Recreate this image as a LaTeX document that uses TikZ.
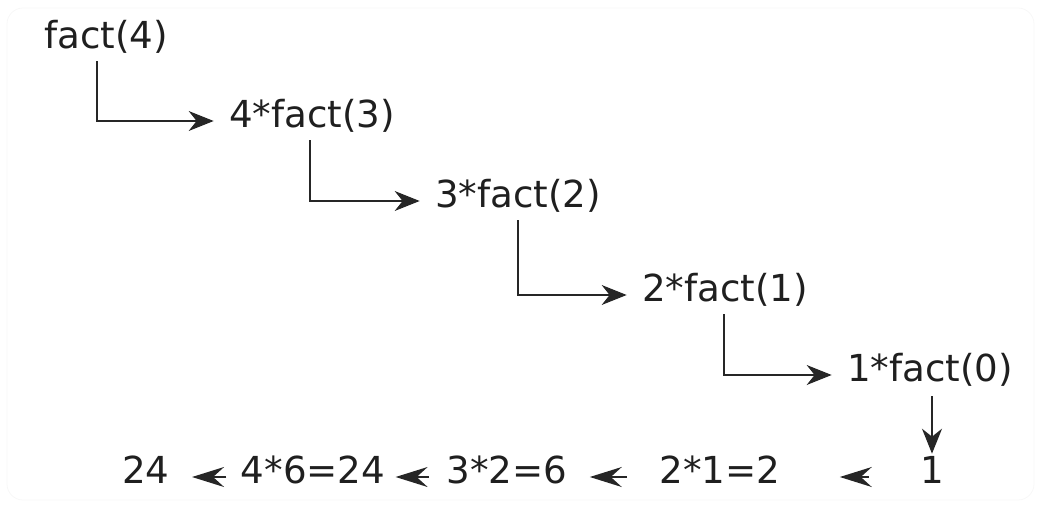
\documentclass[tikz,border=0pt]{standalone}
\usepackage{fontspec}
\setmainfont{DejaVu Sans}
\usetikzlibrary{arrows.meta}

\tikzset{
  term/.style={inner sep=5pt, text=black!88, font=\fontsize{18.6}{22}\selectfont,
    text height=0.76em, text depth=0.13em},
  link/.style={draw=black!85, line width=0.8pt, -{Stealth[length=12.5pt, width=10pt, inset=4pt]}},
  back/.style={draw=black!85, line width=0.9pt, -{Stealth[length=16pt, width=10pt, inset=5.5pt]}}
}

\begin{document}
\begin{tikzpicture}[x=0.5pt, y=-0.5pt]
        \useasboundingbox (0,0) rectangle (1040,509);
        \draw[black!3, rounded corners=8pt] (7,8) rectangle (1034,500);
        % calls going down
        \node[term] (fact4) at (106,42) {fact(4)};
        \node[term] (step3) at (312,121) {4*fact(3)};
        \node[term] (step2) at (518,201) {3*fact(2)};
        \node[term] (step1) at (725,295) {2*fact(1)};
        \node[term] (step0) at (930,375) {1*fact(0)};
        % values coming back
        \node[term] (one) at (932,477) {1};
        \node[term] (res2) at (720,477) {2*1=2};
        \node[term] (res6) at (507,477) {3*2=6};
        \node[term] (res24) at (313,477) {4*6=24};
        \node[term] (final) at (146,477) {24};
        \draw[link, shorten >=2.5pt] ([xshift=-4.5pt]fact4.south) |- (step3);
        \draw[link, shorten >=2.5pt] ([xshift=-1pt]step3.south) |- (step2);
        \draw[link, shorten >=2.5pt] (step2.south) |- (step1);
        \draw[link, shorten >=2.5pt] ([xshift=-0.5pt]step1.south) |- (step0);
        \draw[link, shorten <=1pt, shorten >=2pt] (step0.south -| one) -- (one.north);
        \draw[back, shorten <=20.5pt, shorten >=24.5pt] (one) -- (res2);
        \draw[back, shorten <=11pt, shorten >=6pt] (res2) -- (res6);
        \draw[back, shorten <=3.5pt, shorten >=0pt] (res6) -- (res24);
        \draw[back, shorten <=2pt, shorten >=6pt] (res24) -- (final);
    \end{tikzpicture}
\end{document}
